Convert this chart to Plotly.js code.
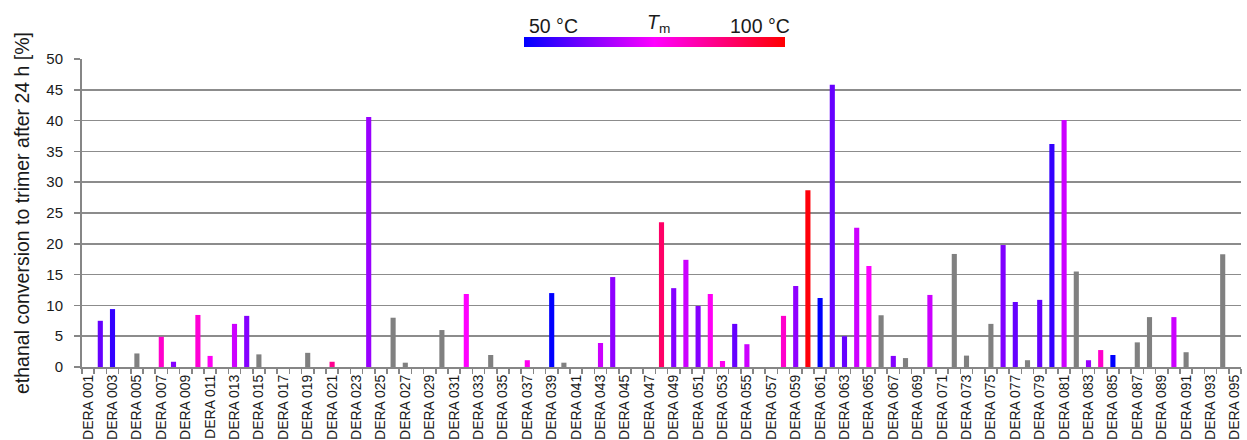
<!DOCTYPE html>
<html>
<head>
<meta charset="utf-8">
<script src="https://cdn.plot.ly/plotly-3.0.1.min.js"></script>
<style>
  html, body { margin: 0; padding: 0; background: #ffffff; }
  #chart { width: 1247px; height: 440px; }
</style>
</head>
<body>
<div id="chart"></div>
<script>
// All DERA variants on the category axis
const variants = [
  "DERA 001","DERA 002","DERA 003","DERA 004","DERA 005","DERA 006","DERA 007","DERA 008","DERA 009","DERA 010",
  "DERA 011","DERA 012","DERA 013","DERA 014","DERA 015","DERA 016","DERA 017","DERA 018","DERA 019","DERA 020",
  "DERA 021","DERA 022","DERA 023","DERA 024","DERA 025","DERA 026","DERA 027","DERA 028","DERA 029","DERA 030",
  "DERA 031","DERA 032","DERA 033","DERA 034","DERA 035","DERA 036","DERA 037","DERA 038","DERA 039","DERA 040",
  "DERA 041","DERA 042","DERA 043","DERA 044","DERA 045","DERA 046","DERA 047","DERA 048","DERA 049","DERA 050",
  "DERA 051","DERA 052","DERA 053","DERA 054","DERA 055","DERA 056","DERA 057","DERA 058","DERA 059","DERA 060",
  "DERA 061","DERA 062","DERA 063","DERA 064","DERA 065","DERA 066","DERA 067","DERA 068","DERA 069","DERA 070",
  "DERA 071","DERA 072","DERA 073","DERA 074","DERA 075","DERA 076","DERA 077","DERA 078","DERA 079","DERA 080",
  "DERA 081","DERA 082","DERA 083","DERA 084","DERA 085","DERA 086","DERA 087","DERA 088","DERA 089","DERA 090",
  "DERA 091","DERA 092","DERA 093","DERA 094","DERA 095"
];

// Variants with a measured melting temperature (colour-coded by Tm)
const tmVariants = [
  "DERA 002","DERA 003","DERA 007","DERA 008","DERA 010","DERA 011","DERA 013","DERA 014","DERA 021","DERA 024",
  "DERA 032","DERA 037","DERA 039","DERA 043","DERA 044","DERA 048","DERA 049","DERA 050","DERA 051","DERA 052",
  "DERA 053","DERA 054","DERA 055","DERA 058","DERA 059","DERA 060","DERA 061","DERA 062","DERA 063","DERA 064",
  "DERA 065","DERA 067","DERA 070","DERA 076","DERA 077","DERA 079","DERA 080","DERA 081","DERA 083","DERA 084",
  "DERA 085","DERA 090"
];
const tmConversion = [
  7.5, 9.4, 4.9, 0.85, 8.45, 1.8, 7.0, 8.3, 0.85, 40.6,
  11.85, 1.1, 12.0, 3.9, 14.6, 23.5, 12.8, 17.4, 9.9, 11.85,
  0.97, 7.0, 3.7, 8.3, 13.15, 28.7, 11.2, 45.8, 5.0, 22.6,
  16.4, 1.8, 11.7, 19.8, 10.55, 10.9, 36.2, 40.1, 1.1, 2.75,
  1.95, 8.1
];
const tmValues = [
  60, 55, 80, 63, 79, 76, 70, 63, 86, 65,
  75, 76.5, 50, 70, 64, 90, 63, 70, 63, 76,
  76.5, 60, 70, 80, 64, 99, 50, 60, 60, 70,
  75, 63, 70, 62.5, 60, 60, 55, 70, 65, 80,
  50, 70
];

// Variants without a Tm value (drawn in grey)
const noTmVariants = [
  "DERA 005","DERA 015","DERA 019","DERA 026","DERA 027","DERA 030","DERA 034","DERA 040","DERA 066","DERA 068",
  "DERA 072","DERA 073","DERA 075","DERA 078","DERA 082","DERA 087","DERA 088","DERA 091","DERA 094"
];
const noTmConversion = [
  2.2, 2.05, 2.3, 8.0, 0.7, 6.0, 1.95, 0.7, 8.4, 1.45,
  18.35, 1.85, 7.0, 1.1, 15.5, 4.0, 8.1, 2.4, 18.3
];

const yTicks = [0, 5, 10, 15, 20, 25, 30, 35, 40, 45, 50];
const tmRange = [50, 100];
const tmScaleLabels = ["50 °C", "100 °C"];

const FONT = "Liberation Sans, Arial, sans-serif";
const TEXT = "#1a1a1a";
const AXIS = "#868686";

const tmScale = [[0, "#0000ff"], [0.5, "#ff00ff"], [1, "#ff0000"]];

const traces = [
  {
    type: "bar",
    name: "Tm known",
    x: tmVariants,
    y: tmConversion,
    marker: {
      color: tmValues,
      colorscale: tmScale,
      cmin: tmRange[0],
      cmax: tmRange[1],
      line: { width: 0 },
      showscale: true,
      colorbar: {
        orientation: "h",
        thickness: 10,
        thicknessmode: "pixels",
        len: 261,
        lenmode: "pixels",
        xref: "container",
        yref: "container",
        x: 564 / 1247,
        xanchor: "left",
        y: 1 - 37 / 440,
        yanchor: "top",
        xpad: 0,
        ypad: 0,
        outlinewidth: 0,
        borderwidth: 0,
        ticks: "",
        showticklabels: false
      }
    },
    hovertemplate: "%{x}<br>%{y:.1f} %<br>Tm %{marker.color} °C<extra></extra>"
  },
  {
    type: "bar",
    name: "Tm unknown",
    x: noTmVariants,
    y: noTmConversion,
    marker: { color: "#808080", line: { width: 0 } },
    hovertemplate: "%{x}<br>%{y:.1f} %<extra></extra>"
  }
];

const layout = {
  width: 1247,
  height: 440,
  margin: { l: 82, r: 6, t: 59, b: 73, pad: 0 },
  paper_bgcolor: "#ffffff",
  plot_bgcolor: "#ffffff",
  showlegend: false,
  barmode: "overlay",
  bargap: 0.58,
  font: { family: FONT, color: TEXT },
  xaxis: {
    type: "category",
    categoryorder: "array",
    categoryarray: variants,
    range: [-0.5, variants.length - 0.5],
    tickmode: "linear",
    tick0: 0,
    dtick: 1,
    tickson: "boundaries",
    ticklabelstep: 2,
    ticks: "outside",
    ticklen: 5,
    tickwidth: 1.5,
    tickcolor: AXIS,
    tickangle: -90,
    tickfont: { family: FONT, size: 14, color: TEXT },
    showline: true,
    linecolor: AXIS,
    linewidth: 2,
    showgrid: false,
    zeroline: false,
    fixedrange: true
  },
  yaxis: {
    range: [0, 50],
    tickmode: "array",
    tickvals: yTicks,
    ticks: "outside",
    ticklen: 6,
    tickwidth: 1.5,
    tickcolor: AXIS,
    ticklabelstandoff: 8,
    tickfont: { family: FONT, size: 15, color: TEXT },
    showline: true,
    linecolor: AXIS,
    linewidth: 2,
    showgrid: true,
    gridcolor: "#8c8c8c",
    gridwidth: 1.5,
    zeroline: false,
    fixedrange: true,
    title: {
      text: "ethanal conversion to trimer after 24 h [%]",
      font: { family: FONT, size: 19.5, color: TEXT },
      standoff: 11
    }
  },
  annotations: [
    {
      xref: "paper", yref: "paper",
      x: (527 - 82) / 1159, y: (367 - 26) / 308,
      xanchor: "left", yanchor: "middle",
      text: tmScaleLabels[0],
      showarrow: false,
      font: { family: FONT, size: 19.5, color: TEXT }
    },
    {
      xref: "paper", yref: "paper",
      x: (792 - 82) / 1159, y: (367 - 26) / 308,
      xanchor: "right", yanchor: "middle",
      text: tmScaleLabels[1],
      showarrow: false,
      font: { family: FONT, size: 19.5, color: TEXT }
    },
    {
      xref: "paper", yref: "paper",
      x: (645 - 82) / 1159, y: (367 - 23) / 308,
      xanchor: "left", yanchor: "middle",
      text: "<i>T</i><sub>m</sub>",
      showarrow: false,
      font: { family: FONT, size: 19.5, color: TEXT }
    }
  ]
};

Plotly.newPlot("chart", traces, layout, { displayModeBar: false, staticPlot: true });
</script>
</body>
</html>
